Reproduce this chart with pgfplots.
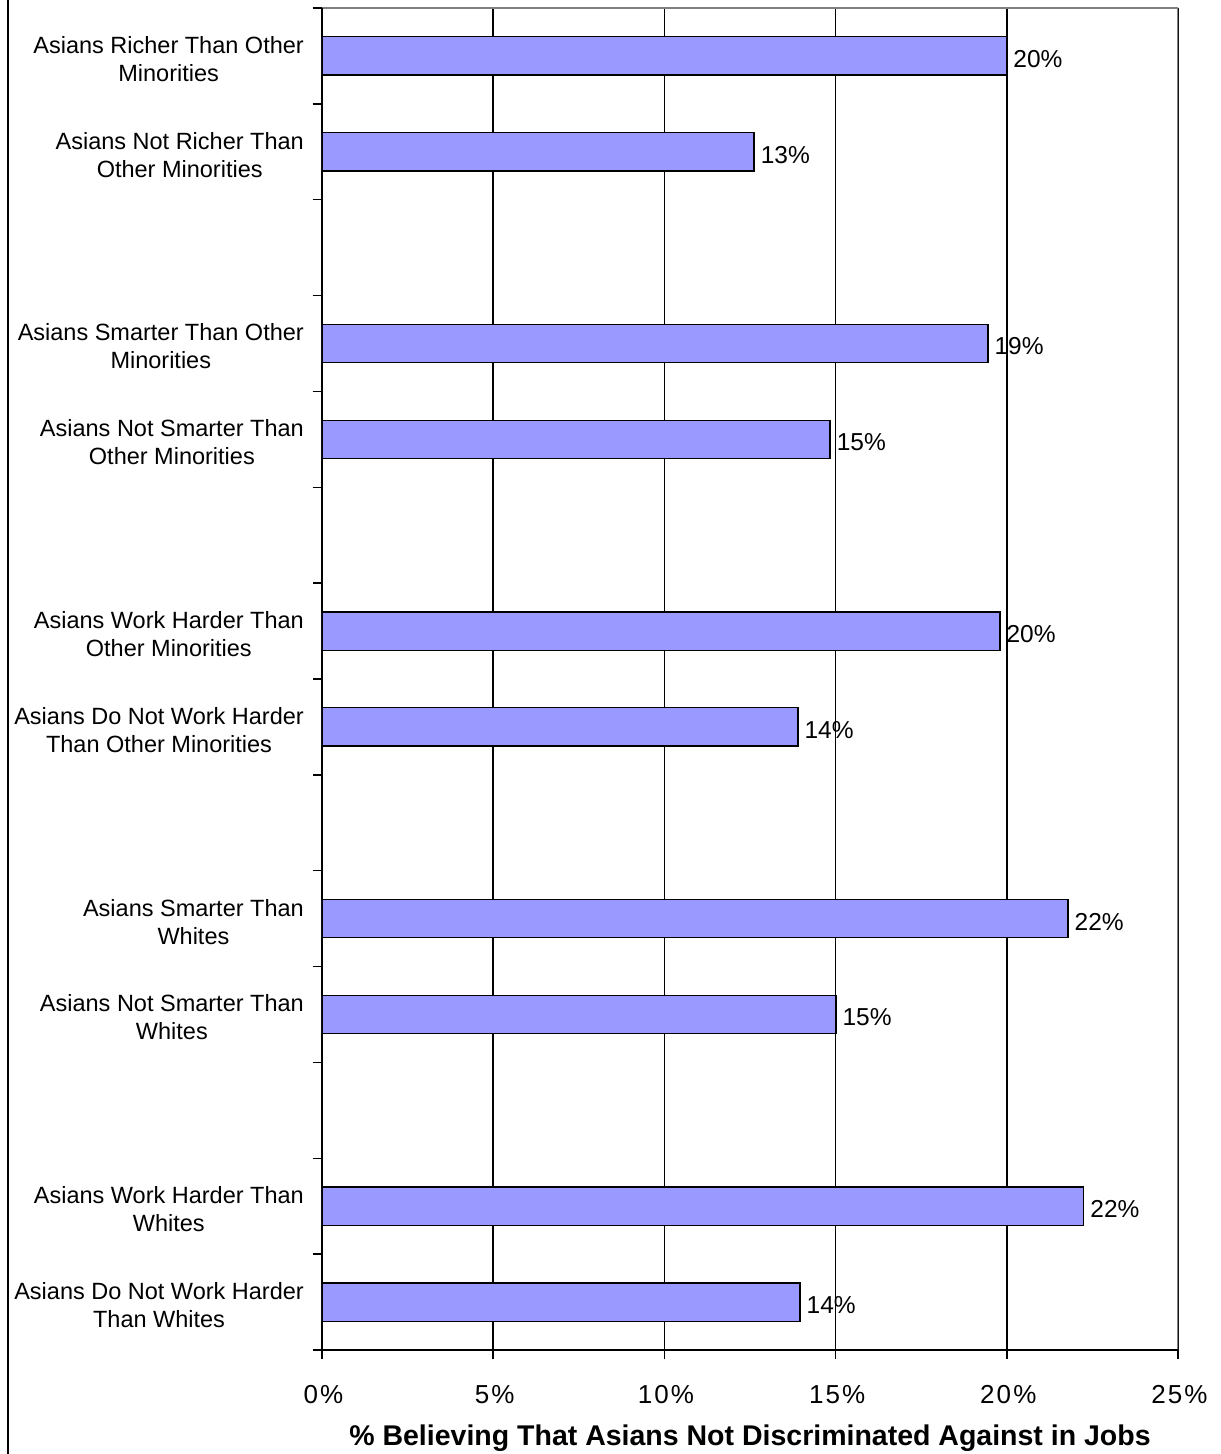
\documentclass[border=0pt]{standalone}
\usepackage{pgfplots}
\pgfplotsset{compat=1.18}
\usepackage{fontspec}
\setmainfont{Liberation Sans}
\newfontfamily\tickfont[LetterSpace=8]{Liberation Sans}
\definecolor{barfill}{HTML}{9999FF}
\begin{document}
\begin{tikzpicture}
\useasboundingbox (-322bp,-104bp) rectangle (899bp,1350bp);
\begin{axis}[
  scale only axis,
  width=856bp, height=1342bp,
  at={(0,0)}, anchor=south west,
  xmin=0, xmax=25, ymin=0, ymax=14,
  xbar, bar width=0.4,
  /pgf/number format/assume math mode=true,
  axis line style={draw=none},
  xtick={0,5,...,25},
  xticklabel={\pgfmathprintnumber{\tick}\%},
  xtick pos=bottom, ytick pos=left,
  tick align=outside,
  major tick length=9bp,
  tick style={black, line width=1.5bp},
  xticklabel style={font=\tickfont\fontsize{26bp}{32bp}\selectfont, inner sep=0pt, yshift=-26bp, xshift=1.5bp},
  xmajorgrids,
  grid style={black, line width=1.5bp},
  ytick={0,1,...,14},
  yticklabels={},
  extra y ticks={0.5,1.5,3.5,4.5,6.5,7.5,9.5,10.5,12.5,13.5},
  extra y tick labels={
    {Asians Do Not Work Harder\\Than Whites},
    {Asians Work Harder Than\\Whites},
    {Asians Not Smarter Than\\Whites},
    {Asians Smarter Than\\Whites},
    {Asians Do Not Work Harder\\Than Other Minorities},
    {Asians Work Harder Than\\Other Minorities},
    {Asians Not Smarter Than\\Other Minorities},
    {Asians Smarter Than Other\\Minorities},
    {Asians Not Richer Than\\Other Minorities},
    {Asians Richer Than Other\\Minorities}},
  extra y tick style={ytick style={draw=none}},
  yticklabel style={align=center, font=\fontsize{23.5bp}{28bp}\selectfont, inner sep=0pt, xshift=-9bp, yshift=-3bp},
  xlabel={\textbf{\% Believing That Asians Not Discriminated Against in Jobs}},
  xlabel style={font=\fontsize{28.5bp}{32bp}\selectfont, inner sep=0pt, yshift=-21bp},
  nodes near coords={\pgfmathprintnumber[fixed,precision=0]{\pgfplotspointmeta}\%},
  nodes near coords style={font=\fontsize{24.5bp}{28bp}\selectfont, anchor=west, inner sep=0pt, xshift=6bp, yshift=-3bp},
  point meta=explicit,
]
\addplot[fill=barfill, draw=black, line width=1.3bp] coordinates {
  (20.0,13.5) [20]
  (12.62,12.5) [13]
  (19.45,10.5) [19]
  (14.84,9.5) [15]
  (19.8,7.5) [20]
  (13.9,6.5) [14]
  (21.79,4.5) [22]
  (15.01,3.5) [15]
  (22.25,1.5) [22]
  (13.96,0.5) [14]
};
\draw[gray, line width=1.5bp] (rel axis cs:0,1) -- (rel axis cs:1,1) -- (rel axis cs:1,0);
\draw[black, line width=1.5bp] (rel axis cs:0,1) -- (rel axis cs:0,0) -- (rel axis cs:1,0);
\end{axis}
\draw[black, line width=2bp] (-314bp,-104bp) -- (-314bp,1350bp);
\end{tikzpicture}
\end{document}
